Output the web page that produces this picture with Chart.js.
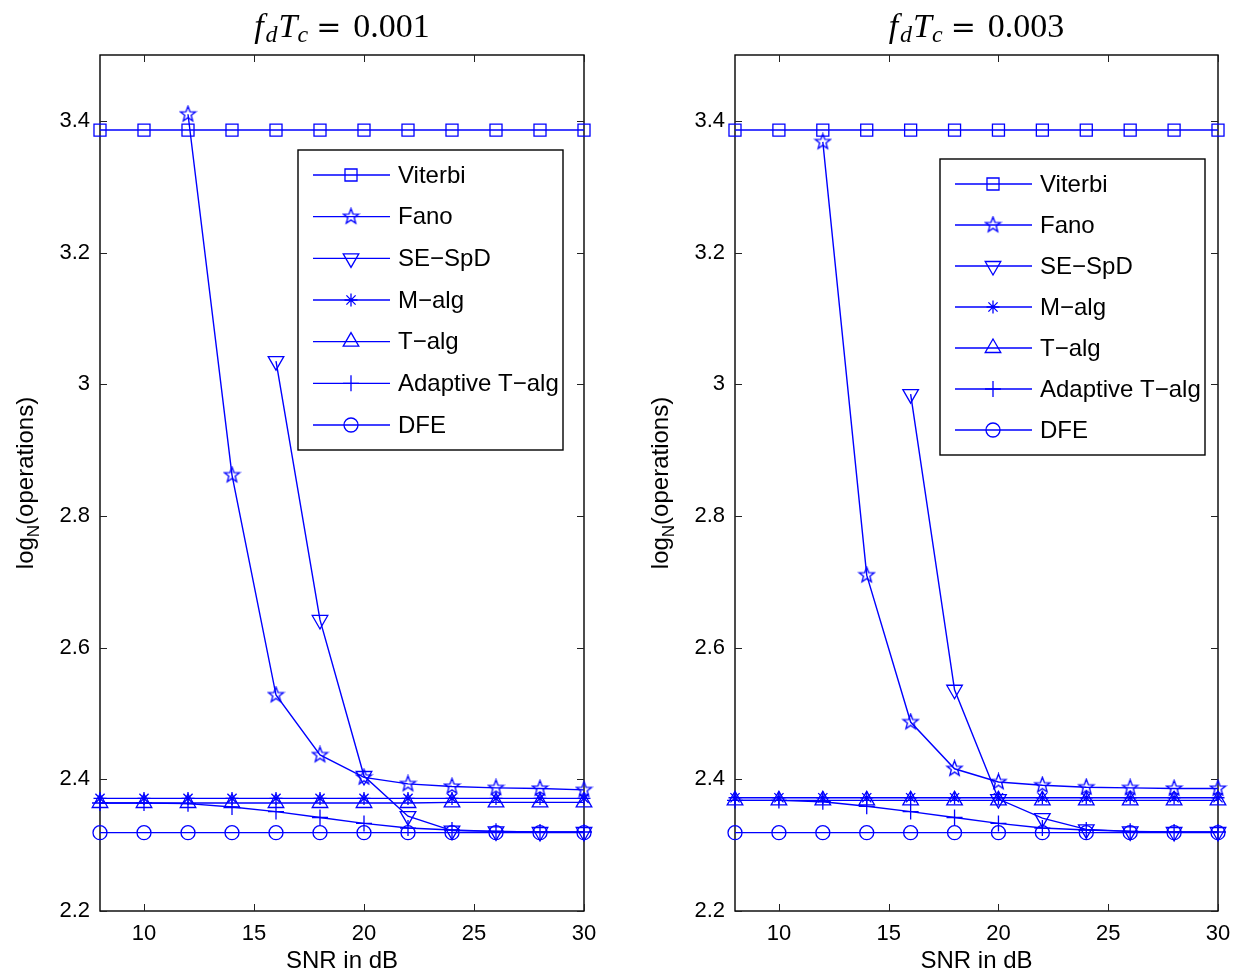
<!DOCTYPE html>
<html>
<head>
<meta charset="utf-8">
<script src="https://cdn.jsdelivr.net/npm/chart.js@4/dist/chart.umd.min.js"></script>
<style>
  html, body { margin: 0; padding: 0; background: #fff; }
  body { width: 1234px; height: 974px; position: relative; overflow: hidden; }
  .panel { position: absolute; top: 0; }
  #panelA { left: 0; }
  #panelB { left: 635px; }
</style>
</head>
<body>
<div class="panel" id="panelA"><canvas id="chartA" width="617" height="974"></canvas></div>
<div class="panel" id="panelB"><canvas id="chartB" width="599" height="974"></canvas></div>
<script>
// SNR points and axis ticks shared by both panels
const snr = [8, 10, 12, 14, 16, 18, 20, 22, 24, 26, 28, 30];
const xTicks = [10, 15, 20, 25, 30];
const yTicks = [2.2, 2.4, 2.6, 2.8, 3.0, 3.2, 3.4];
const yTickLabels = ['2.2', '2.4', '2.6', '2.8', '3', '3.2', '3.4'];
const seriesNames = ['Viterbi', 'Fano', 'SE\u2212SpD', 'M\u2212alg', 'T\u2212alg', 'Adaptive T\u2212alg', 'DFE'];

// fdTc = 0.001
const viterbiA = [3.386, 3.386, 3.386, 3.386, 3.386, 3.386, 3.386, 3.386, 3.386, 3.386, 3.386, 3.386];
const fanoA    = [null, null, 3.410, 2.862, 2.528, 2.437, 2.403, 2.393, 2.389, 2.387, 2.386, 2.384];
const sespdA   = [null, null, null, null, 3.035, 2.642, 2.405, 2.344, 2.322, 2.321, 2.320, 2.320];
const malgA    = [2.371, 2.371, 2.371, 2.371, 2.371, 2.371, 2.371, 2.371, 2.371, 2.371, 2.371, 2.371];
const talgA    = [2.364, 2.364, 2.364, 2.364, 2.364, 2.364, 2.364, 2.364, 2.365, 2.365, 2.365, 2.365];
const adaptA   = [2.364, 2.364, 2.363, 2.358, 2.351, 2.342, 2.333, 2.326, 2.323, 2.321, 2.320, 2.320];
const dfeA     = [2.319, 2.319, 2.319, 2.319, 2.319, 2.319, 2.319, 2.319, 2.319, 2.319, 2.319, 2.319];

// fdTc = 0.003
const viterbiB = [3.386, 3.386, 3.386, 3.386, 3.386, 3.386, 3.386, 3.386, 3.386, 3.386, 3.386, 3.386];
const fanoB    = [null, null, 3.368, 2.710, 2.487, 2.416, 2.396, 2.391, 2.388, 2.387, 2.386, 2.386];
const sespdB   = [null, null, null, null, 2.985, 2.536, 2.370, 2.341, 2.324, 2.321, 2.320, 2.320];
const malgB    = [2.372, 2.372, 2.372, 2.372, 2.372, 2.372, 2.372, 2.372, 2.372, 2.372, 2.372, 2.372];
const talgB    = [2.368, 2.368, 2.368, 2.368, 2.368, 2.368, 2.368, 2.368, 2.368, 2.368, 2.368, 2.368];
const adaptB   = [2.368, 2.368, 2.366, 2.359, 2.351, 2.342, 2.333, 2.326, 2.323, 2.321, 2.320, 2.320];
const dfeB     = [2.319, 2.319, 2.319, 2.319, 2.319, 2.319, 2.319, 2.319, 2.319, 2.319, 2.319, 2.319];

const BLUE = 'rgb(0,0,255)';
const SANS = "'Liberation Sans', Arial, sans-serif";
const SERIF = "'Liberation Serif', 'Times New Roman', serif";

Chart.defaults.font.family = SANS;
Chart.defaults.color = '#000';

// five-pointed outline star, used as a point image
function makeStar(r) {
    const c = document.createElement('canvas');
    const s = 2 * Math.ceil(r) + 3;
    c.width = s; c.height = s;
    const g = c.getContext('2d');
    g.strokeStyle = BLUE;
    g.lineWidth = 1.3;
    g.beginPath();
    for (let i = 0; i < 10; i++) {
        const rr = i % 2 ? r * 0.42 : r;
        const a = -Math.PI / 2 + i * Math.PI / 5;
        const px = s / 2 + rr * Math.cos(a), py = s / 2 + rr * Math.sin(a);
        if (i) g.lineTo(px, py); else g.moveTo(px, py);
    }
    g.closePath();
    g.stroke();
    return c;
}
const starImg = makeStar(8);

const markerStyles = [
    { pointStyle: 'rect', pointRadius: 8.5 },
    { pointStyle: starImg, pointRadius: 8 },
    { pointStyle: 'triangle', pointRotation: 180, pointRadius: 9 },
    { pointStyle: 'star', pointRadius: 6.5 },
    { pointStyle: 'triangle', pointRadius: 9 },
    { pointStyle: 'cross', pointRadius: 8 },
    { pointStyle: 'circle', pointRadius: 7 }
];

function buildDatasets(lists) {
    return lists.map((vals, i) => Object.assign({
        label: seriesNames[i],
        data: vals.map((v, k) => ({ x: snr[k], y: v })),
        borderColor: BLUE,
        borderWidth: 1.4,
        pointBorderColor: BLUE,
        pointBackgroundColor: 'rgba(0,0,0,0)',
        pointBorderWidth: 1.3,
        tension: 0,
        spanGaps: false,
        clip: false
    }, markerStyles[i], { pointHoverRadius: markerStyles[i].pointRadius }));
}

function drawMarker(ctx, ds, x, y) {
    ctx.save();
    ctx.strokeStyle = ds.pointBorderColor;
    ctx.fillStyle = 'rgba(0,0,0,0)';
    ctx.lineWidth = ds.pointBorderWidth;
    if (Chart.helpers && Chart.helpers.drawPoint) {
        Chart.helpers.drawPoint(ctx, {
            pointStyle: ds.pointStyle,
            rotation: ds.pointRotation || 0,
            radius: ds.pointRadius,
            borderWidth: ds.pointBorderWidth
        }, x, y);
    } else if (ds.pointStyle instanceof HTMLCanvasElement) {
        ctx.drawImage(ds.pointStyle, x - ds.pointStyle.width / 2, y - ds.pointStyle.height / 2);
    } else {
        ctx.beginPath();
        ctx.arc(x, y, ds.pointRadius * 0.8, 0, Math.PI * 2);
        ctx.stroke();
    }
    ctx.restore();
}

// box, inward ticks, titles and the legend panel
const framePlugin = {
    id: 'frame',
    beforeDatasetsDraw(chart) {
        const ctx = chart.ctx, a = chart.chartArea;
        const xs = chart.scales.x, ys = chart.scales.y;
        ctx.save();
        ctx.strokeStyle = '#000';
        ctx.lineWidth = 1.4;
        ctx.strokeRect(a.left, a.top, a.right - a.left, a.bottom - a.top);
        ctx.strokeStyle = '#222';
        ctx.lineWidth = 1;
        ctx.beginPath();
        xTicks.forEach(v => {
            const px = Math.round(xs.getPixelForValue(v)) + 0.5;
            ctx.moveTo(px, a.bottom); ctx.lineTo(px, a.bottom - 7);
            ctx.moveTo(px, a.top); ctx.lineTo(px, a.top + 7);
        });
        yTicks.forEach(v => {
            const py = Math.round(ys.getPixelForValue(v)) + 0.5;
            ctx.moveTo(a.left, py); ctx.lineTo(a.left + 7, py);
            ctx.moveTo(a.right, py); ctx.lineTo(a.right - 7, py);
        });
        ctx.stroke();
        ctx.restore();
    },
    afterDraw(chart, args, opts) {
        const ctx = chart.ctx, a = chart.chartArea;
        const cx = (a.left + a.right) / 2;
        ctx.save();
        ctx.fillStyle = '#000';

        // title: f_d T_c = value
        const parts = [
            { t: 'f', font: 'italic 34px ' + SERIF, dy: 0, gap: 2 },
            { t: 'd', font: 'italic 24px ' + SERIF, dy: 5, gap: 1 },
            { t: 'T', font: 'italic 34px ' + SERIF, dy: 0, gap: 0 },
            { t: 'c', font: 'italic 24px ' + SERIF, dy: 5, gap: 8 },
            { t: '=', font: "30px 'DejaVu Serif', serif", dy: 0, gap: 12 },
            { t: opts.value, font: '34px ' + SERIF, dy: 0, gap: 0 }
        ];
        let total = 0;
        parts.forEach(p => { ctx.font = p.font; p.w = ctx.measureText(p.t).width; total += p.w + p.gap; });
        let tx = cx - total / 2;
        ctx.textBaseline = 'alphabetic';
        ctx.textAlign = 'left';
        parts.forEach(p => { ctx.font = p.font; ctx.fillText(p.t, tx, 37 + p.dy); tx += p.w + p.gap; });

        // x axis title
        ctx.font = '24px ' + SANS;
        ctx.textAlign = 'center';
        ctx.textBaseline = 'middle';
        ctx.fillText('SNR in dB', cx, 961);

        // y axis title log_N(operations), rotated
        ctx.save();
        ctx.translate(33, (a.top + a.bottom) / 2);
        ctx.rotate(-Math.PI / 2);
        ctx.textBaseline = 'alphabetic';
        ctx.textAlign = 'left';
        const big = '24px ' + SANS, small = '17px ' + SANS;
        ctx.font = big; const w1 = ctx.measureText('log').width;
        ctx.font = small; const w2 = ctx.measureText('N').width;
        ctx.font = big; const w3 = ctx.measureText('(operations)').width;
        let ox = -(w1 + w2 + w3) / 2;
        ctx.font = big; ctx.fillText('log', ox, 0); ox += w1;
        ctx.font = small; ctx.fillText('N', ox, 6); ox += w2;
        ctx.font = big; ctx.fillText('(operations)', ox, 0);
        ctx.restore();

        // legend panel
        const lg = opts.legend;
        ctx.fillStyle = '#fff';
        ctx.fillRect(lg.x, lg.y, lg.w, lg.h);
        ctx.strokeStyle = '#000';
        ctx.lineWidth = 1.4;
        ctx.strokeRect(lg.x, lg.y, lg.w, lg.h);
        const step = (lg.h - 50) / 6;
        chart.data.datasets.forEach((ds, i) => {
            const y = lg.y + 25 + i * step;
            ctx.strokeStyle = BLUE;
            ctx.lineWidth = 1.4;
            ctx.beginPath();
            ctx.moveTo(lg.x + 15, y);
            ctx.lineTo(lg.x + 92, y);
            ctx.stroke();
            drawMarker(ctx, ds, lg.x + 53, y);
            ctx.fillStyle = '#000';
            ctx.font = '24px ' + SANS;
            ctx.textAlign = 'left';
            ctx.textBaseline = 'middle';
            ctx.fillText(ds.label, lg.x + 100, y + 1);
        });
        ctx.restore();
    }
};

function makePanel(canvasId, lists, value, rightPad, legend) {
    return new Chart(document.getElementById(canvasId), {
        type: 'line',
        data: { datasets: buildDatasets(lists) },
        plugins: [framePlugin],
        options: {
            responsive: false,
            animation: false,
            events: [],
            layout: { padding: { top: 55, right: rightPad, left: 0, bottom: 0 } },
            plugins: {
                legend: { display: false },
                tooltip: { enabled: false },
                frame: { value: value, legend: legend }
            },
            scales: {
                x: {
                    type: 'linear',
                    min: 8,
                    max: 30,
                    grid: { display: false },
                    border: { display: false },
                    afterBuildTicks: s => { s.ticks = xTicks.map(v => ({ value: v })); },
                    afterFit: s => { s.height = 63; },
                    ticks: { padding: 2, font: { size: 22 }, color: '#000', maxRotation: 0, autoSkip: false,
                             callback: v => String(v) }
                },
                y: {
                    type: 'linear',
                    min: 2.2,
                    max: 3.5,
                    grid: { display: false },
                    border: { display: false },
                    afterBuildTicks: s => { s.ticks = yTicks.map(v => ({ value: v })); },
                    afterFit: s => { s.width = 100; },
                    ticks: { padding: 2, font: { size: 22 }, color: '#000', autoSkip: false,
                             callback: (v, i) => yTickLabels[i] }
                }
            }
        }
    });
}

makePanel('chartA', [viterbiA, fanoA, sespdA, malgA, talgA, adaptA, dfeA], '0.001', 33,
    { x: 298, y: 150, w: 265, h: 300 });
makePanel('chartB', [viterbiB, fanoB, sespdB, malgB, talgB, adaptB, dfeB], '0.003', 16,
    { x: 305, y: 159, w: 265, h: 296 });
</script>
</body>
</html>
